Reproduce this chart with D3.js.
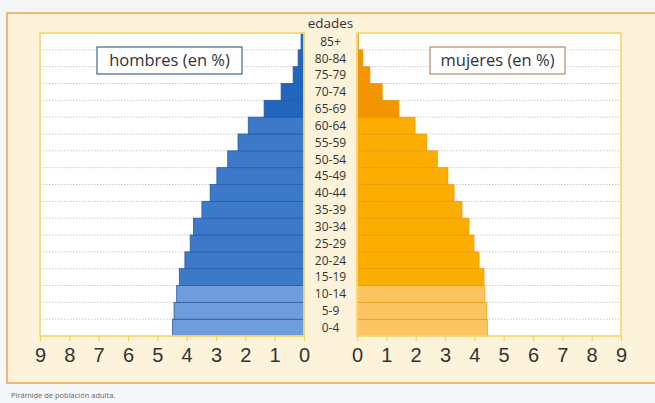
<!DOCTYPE html>
<html><head><meta charset="utf-8">
<script src="https://cdn.jsdelivr.net/npm/d3@7/dist/d3.min.js"></script>
<style>
html,body{margin:0;padding:0;background:#f4f6f8;}
svg{display:block;font-family:"Open Sans","Noto Sans",sans-serif;}
</style></head><body>
<svg id="c" width="655" height="403"></svg>
<script>
const ages = ["0-4","5-9","10-14","15-19","20-24","25-29","30-34","35-39","40-44","45-49","50-54","55-59","60-64","65-69","70-74","75-79","80-84","85+"];
const hombres = [4.48,4.43,4.34,4.25,4.06,3.88,3.77,3.48,3.2,2.97,2.6,2.25,1.9,1.36,0.78,0.37,0.2,0.1];
const mujeres = [4.45,4.43,4.36,4.33,4.16,3.99,3.82,3.58,3.31,3.1,2.74,2.38,1.98,1.43,0.86,0.44,0.2,0.05];
const ticks = [0,1,2,3,4,5,6,7,8,9];

const svg = d3.select("#c");
// frame
svg.append("rect").attr("x",7).attr("y",13).attr("width",660).attr("height",370)
  .attr("fill","#fdf3da").attr("stroke","#f0a14a").attr("stroke-width",1.5);
svg.append("text").attr("x",11).attr("y",398).attr("font-size",7.5).attr("fill","#666")
  .text("Pirámide de población adulta.");

const y = d3.scaleBand().domain(ages.slice().reverse()).range([33,336]).padding(0);
const xL = d3.scaleLinear().domain([0,9]).range([304,40]);
const xR = d3.scaleLinear().domain([0,9]).range([357,621]);

function colM(i){ return i<=2 ? "#6f9ddc" : (i>=13 ? "#2166bd" : "#3c79c9"); }
function colF(i){ return i<=2 ? "#fcc562" : (i>=13 ? "#f39400" : "#fbae00"); }

[[xL,"#2a5ba3"],[xR,"#e49a10"]].forEach(([x])=>{
  const x0 = Math.min(x(0),x(9)), x1 = Math.max(x(0),x(9));
  const g = svg.append("g");
  g.append("rect").attr("x",x0).attr("y",33).attr("width",x1-x0).attr("height",303).attr("fill","#fff");
  g.selectAll("line.grid").data(ages.slice(1)).join("line")
    .attr("x1",x0).attr("x2",x1)
    .attr("y1",d=>y(d)+y.bandwidth()).attr("y2",d=>y(d)+y.bandwidth())
    .attr("stroke","#c5cad6").attr("stroke-width",1).attr("stroke-dasharray","1.5,1.5");
});

// bars
svg.append("g").selectAll("rect").data(hombres).join("rect")
  .attr("x",d=>xL(d)).attr("width",d=>xL(0)-xL(d))
  .attr("y",(d,i)=>y(ages[i])).attr("height",y.bandwidth())
  .attr("fill",(d,i)=>colM(i)).attr("stroke","#2a5ba3").attr("stroke-width",0.8);
svg.append("g").selectAll("rect").data(mujeres).join("rect")
  .attr("x",xR(0)).attr("width",d=>xR(d)-xR(0))
  .attr("y",(d,i)=>y(ages[i])).attr("height",y.bandwidth())
  .attr("fill",(d,i)=>colF(i)).attr("stroke","#e5950a").attr("stroke-width",0.6);

// plot borders
[xL,xR].forEach(x=>{
  const x0 = Math.min(x(0),x(9)), x1 = Math.max(x(0),x(9));
  svg.append("rect").attr("x",x0).attr("y",33).attr("width",x1-x0).attr("height",303)
    .attr("fill","none").attr("stroke","#f7d97a").attr("stroke-width",1.8);
});

// axes
function styleAxis(g){
  g.select(".domain").remove();
  g.selectAll(".tick line").attr("stroke","#f1cf6a").attr("stroke-width",1.2);
  g.selectAll(".tick text").attr("font-size",20).attr("fill","#333").attr("dy","0.7em");
}
svg.append("g").attr("transform","translate(0,336)")
  .call(d3.axisBottom(xL).tickValues(ticks).tickSize(5).tickPadding(7)).call(styleAxis);
svg.append("g").attr("transform","translate(0,336)")
  .call(d3.axisBottom(xR).tickValues(ticks).tickSize(5).tickPadding(7)).call(styleAxis);

// age labels
svg.append("g").selectAll("text").data(ages).join("text")
  .attr("x",330.5).attr("y",d=>y(d)+y.bandwidth()/2).attr("dy","0.36em")
  .attr("text-anchor","middle").attr("font-size",12).attr("fill","#333").text(d=>d);
svg.append("text").attr("x",330.5).attr("y",23).attr("dy","0.36em").attr("text-anchor","middle")
  .attr("font-size",13.5).attr("fill","#333").text("edades");

// legend boxes
function legend(x,w,label,stroke){
  svg.append("rect").attr("x",x).attr("y",47).attr("width",w).attr("height",27)
    .attr("fill","#fff").attr("stroke",stroke).attr("stroke-width",1.2);
  svg.append("text").attr("x",x+w/2).attr("y",60.5).attr("dy","0.36em").attr("text-anchor","middle")
    .attr("font-size",16.5).attr("fill","#333").text(label);
}
legend(97,145,"hombres (en %)","#3f6596");
legend(430,135,"mujeres (en %)","#b48a6a");
</script></body></html>
